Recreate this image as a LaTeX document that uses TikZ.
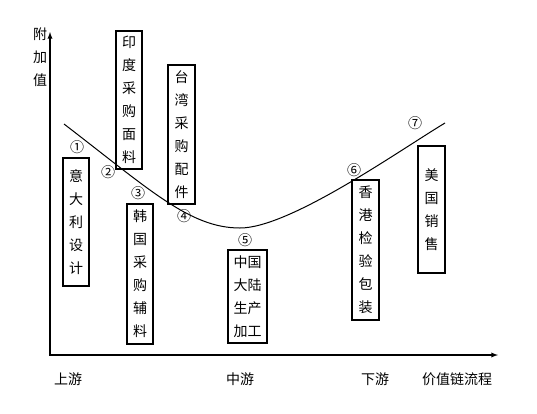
\documentclass[tikz,border=0pt]{standalone}
\usepackage{fontspec}
\usepackage{tikz}
\newfontfamily\cjk{Noto Sans CJK SC}

\begin{document}
\begin{tikzpicture}[x=1pt,y=-1pt,
		stagebox/.style={draw,line width=1.1pt,inner sep=0pt,align=center,font=\cjk\fontsize{14}{23}\selectfont},
		stepnum/.style={inner sep=0pt,font=\cjk\fontsize{14}{14}\selectfont},
		axislabel/.style={inner sep=0pt,align=center,font=\cjk\fontsize{14}{23}\selectfont}]
		\useasboundingbox (0,0) rectangle (537,413);
		% axes
		\coordinate (origin) at (50,355);
		\coordinate (ytip) at (50,32);
		\coordinate (xtip) at (498,355);
		\draw[latex-latex,line width=1.3pt] (ytip) -- (origin) -- (xtip);
		\node[axislabel] (yname) at (40,57) {附\\加\\值};
		\node[axislabel] (upstream) at (68,379) {上游};
		\node[axislabel] (midstream) at (240,379) {中游};
		\node[axislabel] (downstream) at (375,379) {下游};
		\node[axislabel] (xname) at (457,379) {价值链流程};
		% smile curve
		\draw[line width=1pt] (64,124) .. controls (150,190) and (190,228) .. (240,228)
			.. controls (290,228) and (400,150) .. (445,123);
		% stages
		\node[stagebox,minimum width=26,minimum height=128] (italy) at (76,222) {意\\大\\利\\设\\计};
		\node[stagebox,minimum width=26,minimum height=138] (india) at (129,100) {印\\度\\采\\购\\面\\料};
		\node[stagebox,minimum width=26,minimum height=140] (korea) at (140,274) {韩\\国\\采\\购\\辅\\料};
		\node[stagebox,minimum width=27,minimum height=139] (taiwan) at (181.5,134.5) {台\\湾\\采\\购\\配\\件};
		\node[stagebox,minimum width=39,minimum height=93] (mainland) at (247.5,296.5) {中国\\大陆\\生产\\加工};
		\node[stagebox,minimum width=27,minimum height=140] (hongkong) at (365.5,250) {香\\港\\检\\验\\包\\装};
		\node[stagebox,minimum width=27,minimum height=127] (usa) at (431.5,209.5) {美\\国\\销\\售};
		% step numbers
		\node[stepnum] (n1) at (77,147) {①};
		\node[stepnum] (n2) at (108,172) {②};
		\node[stepnum] (n3) at (138,193) {③};
		\node[stepnum] (n4) at (184,216) {④};
		\node[stepnum] (n5) at (245,240) {⑤};
		\node[stepnum] (n6) at (354,170) {⑥};
		\node[stepnum] (n7) at (415,123) {⑦};
	\end{tikzpicture}
\end{document}
